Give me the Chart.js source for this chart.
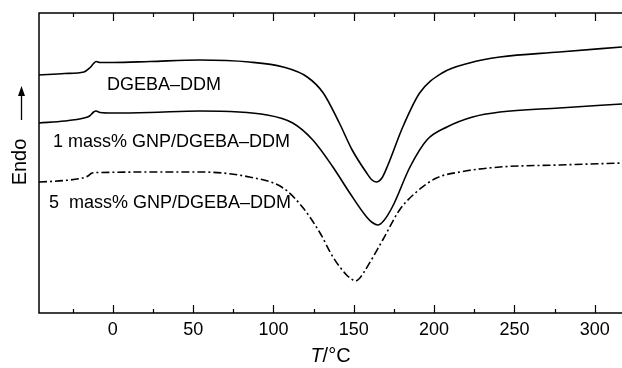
<!DOCTYPE html>
<html>
<head>
<meta charset="utf-8">
<script src="https://cdn.jsdelivr.net/npm/chart.js@4"></script>
<style>
html, body { margin: 0; padding: 0; background: #fff; }
#wrap { width: 622px; height: 368px; }
</style>
</head>
<body>
<div id="wrap"><canvas id="dsc" width="622" height="368"></canvas></div>
<script>
// x axis ticks (°C)
const xTicks = [0, 50, 100, 150, 200, 250, 300];
const xMinorTicks = [-25, 25, 75, 125, 175, 225, 275];

// DGEBA–DDM
const neatTemp = [-46, -30, -18, -14.5, -12, -10.5, -8, 0, 23, 54, 85, 106, 121, 131, 141, 149, 158, 161, 164, 167.5, 171, 180.5, 191, 205, 222, 241, 278, 317];
const neatFlow = [238, 239.5, 241, 245, 249.5, 251.5, 250.5, 250.5, 251.5, 253, 251, 246, 236, 220, 190, 163, 140, 133.5, 131, 135, 147, 186, 220, 240, 250, 256, 261, 266];

// 1 mass% GNP/DGEBA–DDM
const gnp1Temp = [-46, -30, -18, -14.5, -12, -10.5, -8, 0, 23, 54, 96, 112, 124.5, 137, 147.5, 158, 161.5, 165, 168.5, 174, 185, 195.5, 208, 224, 241, 278, 317];
const gnp1Flow = [190, 192, 195, 197, 201, 202, 200.5, 200, 200.5, 202, 198, 190, 173, 146, 120, 96, 90.5, 88, 92, 106, 146, 173, 186, 196, 201, 205, 209];

// 5 mass% GNP/DGEBA–DDM
const gnp5Temp = [-46, -30, -19, -15.5, -13, -8, 23, 54, 85, 106, 118, 129, 137, 145.5, 148.5, 151, 153.5, 156, 168, 178.5, 189, 201.5, 216, 241, 278, 317];
const gnp5Flow = [131, 132.5, 135, 137, 140, 140.5, 141, 141, 136, 125, 106, 80, 56, 38, 34, 32, 34.5, 40, 73, 103, 121, 135, 141, 146, 148, 150];

const curveNames = ['DGEBA–DDM', '1 mass% GNP/DGEBA–DDM', '5  mass% GNP/DGEBA–DDM'];

const FONT = '"Liberation Sans", Arial, Helvetica, sans-serif';

// where each curve name sits, in data units (°C, signal)
const nameAnchors = [[-3.7, 223], [-37.3, 166], [-39.8, 105]];

function toPoints(ts, vs) {
    return ts.map((t, i) => ({ x: t, y: vs[i] }));
}

const decorations = {
    id: 'decorations',
    afterDraw(chart) {
        const { ctx, chartArea: a, scales: { x, y } } = chart;
        ctx.save();
        ctx.strokeStyle = '#000';
        ctx.fillStyle = '#000';

        // frame: top, left, bottom
        ctx.lineWidth = 1.5;
        ctx.beginPath();
        ctx.moveTo(a.right + 2, a.top);
        ctx.lineTo(a.left, a.top);
        ctx.lineTo(a.left, a.bottom);
        ctx.lineTo(a.right + 2, a.bottom);
        ctx.stroke();

        // inward ticks top and bottom
        ctx.lineWidth = 1.2;
        const tick = (v, len) => {
            const px = Math.round(x.getPixelForValue(v)) + 0.5;
            ctx.beginPath();
            ctx.moveTo(px, a.bottom);
            ctx.lineTo(px, a.bottom - len);
            ctx.moveTo(px, a.top);
            ctx.lineTo(px, a.top + len);
            ctx.stroke();
        };
        xTicks.forEach(v => tick(v, 8));
        xMinorTicks.forEach(v => tick(v, 4));

        // curve names
        ctx.font = '18px ' + FONT;
        ctx.textAlign = 'left';
        ctx.textBaseline = 'alphabetic';
        curveNames.forEach((name, i) => {
            ctx.fillText(name, x.getPixelForValue(nameAnchors[i][0]), y.getPixelForValue(nameAnchors[i][1]));
        });

        // x title: T/°C with italic T
        const cx = (a.left + a.right) / 2;
        ctx.font = 'italic 20px ' + FONT;
        const wT = ctx.measureText('T').width;
        ctx.font = '20px ' + FONT;
        const wR = ctx.measureText('/°C').width;
        const x0 = cx - (wT + wR) / 2;
        ctx.font = 'italic 20px ' + FONT;
        ctx.fillText('T', x0, 362);
        ctx.font = '20px ' + FONT;
        ctx.fillText('/°C', x0 + wT, 362);

        // y title: Endo with arrow
        ctx.save();
        ctx.translate(20, 162);
        ctx.rotate(-Math.PI / 2);
        ctx.font = '20px ' + FONT;
        ctx.textAlign = 'center';
        ctx.textBaseline = 'middle';
        ctx.fillText('Endo', 0, 0);
        ctx.restore();

        ctx.lineWidth = 1.3;
        ctx.beginPath();
        ctx.moveTo(21.5, 120);
        ctx.lineTo(21.5, 94);
        ctx.stroke();
        ctx.beginPath();
        ctx.moveTo(21.5, 86);
        ctx.lineTo(18, 96);
        ctx.lineTo(25, 96);
        ctx.closePath();
        ctx.fill();

        ctx.restore();
    }
};

const line = (data, dash) => ({
    data: data,
    borderColor: '#000',
    borderWidth: 1.6,
    borderDash: dash,
    pointRadius: 0,
    fill: false,
    cubicInterpolationMode: 'monotone'
});

new Chart(document.getElementById('dsc').getContext('2d'), {
    type: 'line',
    data: {
        datasets: [
            line(toPoints(neatTemp, neatFlow), []),
            line(toPoints(gnp1Temp, gnp1Flow), []),
            line(toPoints(gnp5Temp, gnp5Flow), [8, 3, 2, 3])
        ]
    },
    options: {
        responsive: false,
        devicePixelRatio: 1,
        animation: false,
        layout: { padding: { left: 39, top: 13, right: 0, bottom: 0 } },
        plugins: { legend: { display: false }, tooltip: { enabled: false } },
        scales: {
            x: {
                type: 'linear',
                min: -46,
                max: 317,
                grid: { display: false, drawTicks: false },
                border: { display: false },
                afterBuildTicks: s => { s.ticks = xTicks.map(v => ({ value: v })); },
                afterFit: s => { s.height = 55; },
                ticks: {
                    autoSkip: false,
                    maxRotation: 0,
                    padding: 6,
                    color: '#000',
                    font: { family: FONT, size: 18 }
                }
            },
            y: {
                display: false,
                min: 0,
                max: 300
            }
        }
    },
    plugins: [decorations]
});
</script>
</body>
</html>
